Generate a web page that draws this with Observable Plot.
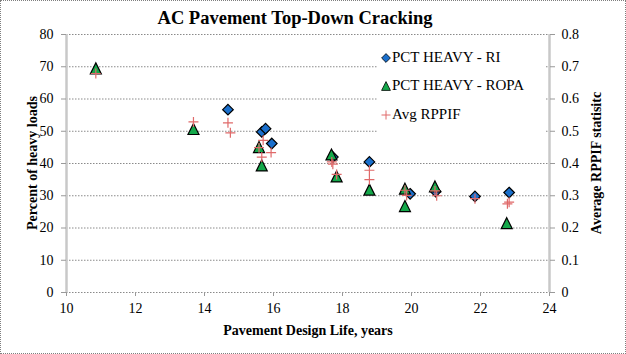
<!DOCTYPE html>
<html><head><meta charset="utf-8">
<script src="https://cdn.jsdelivr.net/npm/d3@7"></script>
<script src="https://cdn.jsdelivr.net/npm/@observablehq/plot@0.6"></script>
<style>
body{margin:0;background:#fff;}
#wrap{position:relative;width:626px;height:354px;font-family:'Liberation Serif',serif;color:#000;overflow:hidden;}
#wrap svg text{font-family:'Liberation Serif',serif !important;}
#border{position:absolute;left:0;top:0;width:624px;height:352px;border:1px dotted #7f7f7f;pointer-events:none;}
.t{position:absolute;white-space:nowrap;transform:translate(-50%,-50%);font-family:'Liberation Serif',serif;}
#legend{position:absolute;left:377px;top:37px;width:168px;height:98px;background:#fff;font-size:15px;font-family:'Liberation Serif',serif;}
.li{position:absolute;left:4px;height:18px;line-height:18px;white-space:nowrap;font-family:'Liberation Serif',serif;}
.li svg{vertical-align:middle;margin-right:1px;position:relative;top:-1px;}
</style></head>
<body>
<div id="wrap"></div>
<script>
// ---- data ----
const xTicks = [10, 12, 14, 16, 18, 20, 22, 24];
const yTicks = [0, 10, 20, 30, 40, 50, 60, 70, 80];
const rightTickLabels = ["0", "0.1", "0.2", "0.3", "0.4", "0.5", "0.6", "0.7", "0.8"];

const riLife = [14.68, 15.66, 15.77, 15.95, 17.72, 18.78, 19.96, 20.70, 21.84, 22.83];
const riPct  = [56.7, 49.8, 50.8, 46.2, 42.0, 40.5, 30.6, 31.3, 29.8, 31.0];

const ropaLife = [10.85, 13.68, 15.58, 15.66, 17.68, 17.83, 18.78, 19.81, 19.81, 20.68, 22.76];
const ropaPct  = [69.5, 50.7, 45.1, 39.4, 42.8, 36.0, 31.9, 32.2, 26.8, 32.9, 21.5];

const rppifLife = [10.85, 13.68, 14.68, 14.75, 15.70, 15.58, 15.93, 15.66, 17.69, 17.72, 17.83, 18.78, 18.78, 19.81, 19.86, 20.68, 20.73, 21.84, 22.78, 22.83];
const rppifVal  = [0.679, 0.529, 0.526, 0.495, 0.472, 0.449, 0.434, 0.420, 0.405, 0.398, 0.366, 0.379, 0.350, 0.317, 0.301, 0.315, 0.300, 0.291, 0.275, 0.280];

const seriesNames = ["PCT HEAVY - RI", "PCT HEAVY - ROPA", "Avg RPPIF"];
const titleText = "AC Pavement  Top-Down Cracking";
const xTitle = "Pavement Design Life, years";
const yTitle = "Percent of heavy loads";
const y2Title = "Average RPPIF statisitc";

// ---- tables ----
const ri = riLife.map((x, i) => ({x, y: riPct[i]}));
const ropa = ropaLife.map((x, i) => ({x, y: ropaPct[i]}));
const rppif = rppifLife.map((x, i) => ({x, v: rppifVal[i]}));

// ---- symbols ----
const diamondSym = {draw(c, size){const r = Math.sqrt(size/Math.PI); c.moveTo(0,-r); c.lineTo(r,0); c.lineTo(0,r); c.lineTo(-r,0); c.closePath();}};
const triSym = {draw(c, size){const r = Math.sqrt(size/Math.PI); c.moveTo(0,-r); c.lineTo(r,r); c.lineTo(-r,r); c.closePath();}};
const plusSym = {draw(c, size){const r = Math.sqrt(size/Math.PI); c.moveTo(-r,0); c.lineTo(r,0); c.moveTo(0,-r); c.lineTo(0,r);}};

const blue = "#1a6fcc", green = "#14a84a", red = "#e06a6a";
const FF = "'Liberation Serif', serif";

const plot = Plot.plot({
  width: 626, height: 354,
  marginLeft: 66, marginRight: 77, marginTop: 34, marginBottom: 62,
  style: {fontFamily: FF, fontSize: "14px", color: "#000", background: "transparent", overflow: "visible"},
  x: {domain: [10, 24]},
  y: {domain: [0, 80]},
  marks: [
    Plot.gridY(yTicks, {stroke: "#8a8a8a", strokeOpacity: 1, strokeWidth: 1, strokeDasharray: "1.5,1.5"}),
    Plot.ruleX([10, 24], {stroke: "#c8c8c8", strokeWidth: 2.5}),
    Plot.axisY(yTicks, {anchor: "left", tickSize: 5, tickPadding: 8, stroke: "#999", fill: "#000", fontFamily: FF, fontSize: 14, tickFormat: d => String(d), label: null}),
    Plot.axisY(yTicks, {anchor: "right", tickSize: 5, tickPadding: 7, stroke: "#999", fill: "#000", fontFamily: FF, fontSize: 14, tickFormat: d => rightTickLabels[yTicks.indexOf(d)], label: null}),
    Plot.axisX(xTicks, {anchor: "bottom", tickSize: 4, tickPadding: 7, stroke: "#999", fill: "#000", fontFamily: FF, fontSize: 14, tickFormat: d => String(d), label: null}),
    Plot.dot(ri, {x: "x", y: "y", symbol: diamondSym, r: 5.3, fill: blue, stroke: "#000", strokeWidth: 1.2}),
    Plot.dot(ropa, {x: "x", y: "y", symbol: triSym, r: 5.5, fill: green, stroke: "#000", strokeWidth: 1.2}),
    Plot.dot(rppif, {x: "x", y: d => d.v * 100, symbol: plusSym, r: 5, fill: "none", stroke: red, strokeWidth: 1.2})
  ]
});

const wrap = document.getElementById("wrap");
wrap.appendChild(plot);

function addText(txt, x, y, css, rot){
  const d = document.createElement("div");
  d.className = "t"; d.textContent = txt;
  d.style.left = x + "px"; d.style.top = y + "px";
  Object.assign(d.style, css);
  if (rot) d.style.transform = "translate(-50%,-50%) rotate(" + rot + "deg)";
  wrap.appendChild(d);
}
addText(titleText, 295, 18, {fontSize: "18.5px", fontWeight: "bold"});
addText(xTitle, 308, 331, {fontSize: "14px", fontWeight: "bold"});
addText(yTitle, 33, 163, {fontSize: "14px", fontWeight: "bold"}, -90);
addText(y2Title, 597, 163, {fontSize: "14px", fontWeight: "bold"}, -90);

// legend
const lg = document.createElement("div"); lg.id = "legend";
const mk = [
  `<svg width="10" height="10"><path d="M5,0.6L9.4,5L5,9.4L0.6,5Z" fill="${blue}" stroke="#000" stroke-width="0.8"/></svg>`,
  `<svg width="10" height="10"><path d="M5,0.6L9.4,9.4L0.6,9.4Z" fill="${green}" stroke="#000" stroke-width="0.8"/></svg>`,
  `<svg width="10" height="10"><path d="M0.5,5H9.5M5,0.5V9.5" stroke="${red}" stroke-width="1"/></svg>`
];
const rowTops = [11, 39, 68];
seriesNames.forEach((n, i) => {
  const r = document.createElement("div"); r.className = "li";
  r.style.top = rowTops[i] + "px";
  r.innerHTML = mk[i] + n;
  lg.appendChild(r);
});
wrap.appendChild(lg);
const b = document.createElement("div"); b.id = "border"; wrap.appendChild(b);
</script>
</body></html>
